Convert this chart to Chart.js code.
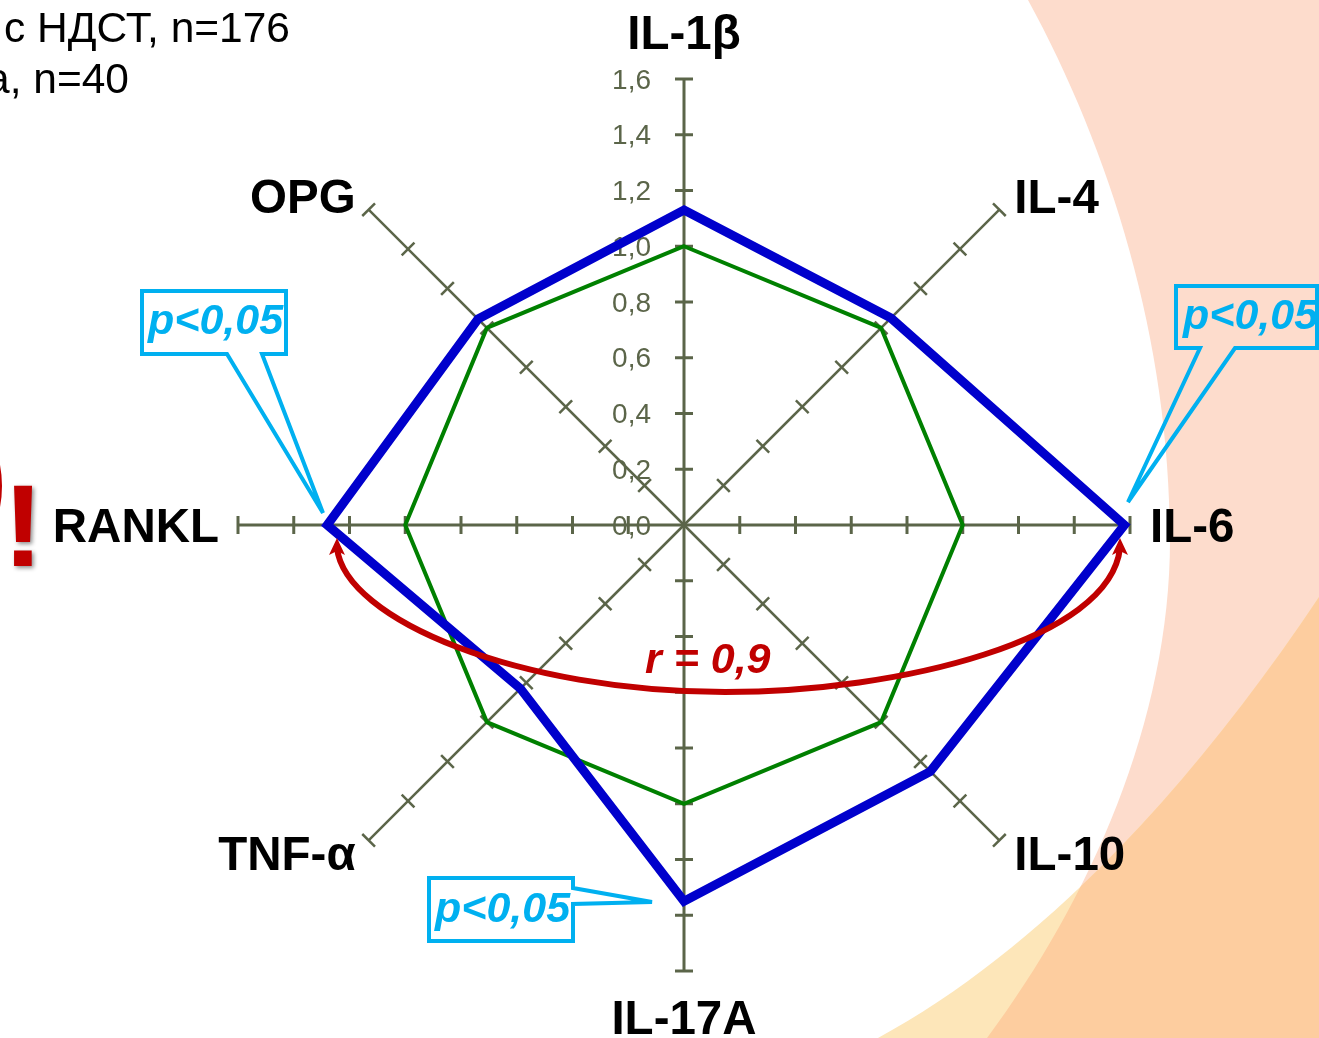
<!DOCTYPE html>
<html>
<head>
<meta charset="utf-8">
<title>Radar</title>
<script src="https://cdn.jsdelivr.net/npm/chart.js@4"></script>
<style>
html,body{margin:0;padding:0;background:#fff;overflow:hidden}
canvas{display:block}
</style>
</head>
<body>
<canvas id="myChart" width="1319" height="1038"></canvas>
<script>
const categories = ['IL-1β', 'IL-4', 'IL-6', 'IL-10', 'IL-17A', 'TNF-α', 'RANKL', 'OPG'];
const patientValues = [1.13, 1.05, 1.58, 1.25, 1.35, 0.83, 1.28, 1.045];
const controlValues = [1, 1, 1, 1, 1, 1, 1, 1];
const tickLabels = ['0,0', '0,2', '0,4', '0,6', '0,8', '1,0', '1,2', '1,4', '1,6'];
const headerLines = ['с НДСТ, n=176', 'а, n=40'];

// label offset from the end of each spoke
const labelDx = [0, 15, 20, 15, 0, -13, -19, -13];
const labelDy = [-30, 3, 17, 30, 63, 30, 17, 3];

const axisColor = '#5b6549';
const cyan = '#00b0f0';
const red = '#c00000';
const sans = '"Liberation Sans", Arial, sans-serif';

const drawBackground = (ctx) => {
    const pinkEdge = () => {
        ctx.beginPath();
        ctx.moveTo(1028, 0);
        ctx.bezierCurveTo(1110, 150, 1170, 340, 1170, 540);
        ctx.bezierCurveTo(1170, 720, 1090, 900, 987, 1038);
        ctx.lineTo(1319, 1038);
        ctx.lineTo(1319, 0);
        ctx.closePath();
    };
    const yellowEdge = () => {
        ctx.beginPath();
        ctx.moveTo(878, 1038);
        ctx.bezierCurveTo(1040, 950, 1190, 790, 1319, 597);
        ctx.lineTo(1319, 1038);
        ctx.closePath();
    };
    ctx.save();
    ctx.fillStyle = '#ffffff';
    ctx.fillRect(0, 0, 1319, 1038);
    pinkEdge();
    ctx.fillStyle = '#fddccc';
    ctx.fill();
    yellowEdge();
    ctx.fillStyle = '#fde6b9';
    ctx.fill();
    // overlap of both shapes is the darker orange
    pinkEdge();
    ctx.clip();
    yellowEdge();
    ctx.fillStyle = '#fdcd9f';
    ctx.fill();
    ctx.restore();
};

const drawAxisDetails = (chart) => {
    const ctx = chart.ctx;
    const scale = chart.scales.r;
    ctx.save();
    ctx.strokeStyle = axisColor;
    ctx.lineCap = 'butt';
    categories.forEach((name, i) => {
        const end = scale.getPointPositionForValue(i, scale.max);
        const dx = end.x - scale.xCenter;
        const dy = end.y - scale.yCenter;
        const len = Math.sqrt(dx * dx + dy * dy);
        ctx.lineWidth = i % 2 === 0 ? 3 : 2.5;
        scale.ticks.forEach((tick) => {
            if (tick.value === 0) return;
            const p = scale.getPointPositionForValue(i, tick.value);
            ctx.beginPath();
            ctx.moveTo(p.x - dy / len * 9, p.y + dx / len * 9);
            ctx.lineTo(p.x + dy / len * 9, p.y - dx / len * 9);
            ctx.stroke();
        });
    });
    ctx.fillStyle = axisColor;
    ctx.font = '28px ' + sans;
    ctx.textAlign = 'right';
    ctx.textBaseline = 'middle';
    scale.ticks.forEach((tick) => {
        ctx.fillText(tick.label, scale.xCenter - 33, scale.yCenter - scale.getDistanceFromCenterForValue(tick.value) + 2);
    });
    ctx.restore();
};

const drawCategoryLabels = (chart) => {
    const ctx = chart.ctx;
    const scale = chart.scales.r;
    ctx.save();
    ctx.fillStyle = '#000';
    ctx.font = 'bold 47.5px ' + sans;
    ctx.textBaseline = 'alphabetic';
    chart.data.labels.forEach((name, i) => {
        const end = scale.getPointPositionForValue(i, scale.max);
        ctx.textAlign = labelDx[i] === 0 ? 'center' : labelDx[i] > 0 ? 'left' : 'right';
        ctx.fillText(name, end.x + labelDx[i], end.y + labelDy[i]);
    });
    ctx.restore();
};

const drawCallout = (ctx, outline, textX, textY) => {
    ctx.beginPath();
    outline.forEach((p, i) => (i === 0 ? ctx.moveTo(p[0], p[1]) : ctx.lineTo(p[0], p[1])));
    ctx.closePath();
    ctx.strokeStyle = cyan;
    ctx.lineWidth = 4;
    ctx.lineJoin = 'miter';
    ctx.miterLimit = 3;
    ctx.stroke();
    ctx.fillStyle = cyan;
    ctx.font = 'italic bold 43px ' + sans;
    ctx.textAlign = 'left';
    ctx.fillText('p<0,05', textX, textY);
};

const drawAnnotations = (chart) => {
    const ctx = chart.ctx;
    ctx.save();
    ctx.textBaseline = 'alphabetic';

    // header text, cut off by the left edge
    ctx.fillStyle = '#000';
    ctx.font = '42.5px ' + sans;
    ctx.textAlign = 'right';
    ctx.fillText(headerLines[0], 290, 42);
    ctx.fillText(headerLines[1], 129, 93);

    drawCallout(ctx, [[142, 291], [286, 291], [286, 354], [262, 354], [323, 513], [227, 354], [142, 354]], 148, 334);
    drawCallout(ctx, [[1176, 286], [1317, 286], [1317, 348], [1235, 348], [1128, 502], [1200, 348], [1176, 348]], 1183, 329);
    drawCallout(ctx, [[429, 878], [573, 878], [573, 888], [652, 902], [573, 904], [573, 941], [429, 941]], 435, 922);

    // red correlation arc
    ctx.strokeStyle = red;
    ctx.lineWidth = 6;
    ctx.beginPath();
    ctx.moveTo(337, 548);
    ctx.bezierCurveTo(345, 620, 520, 692, 725, 692);
    ctx.bezierCurveTo(900, 692, 1110, 640, 1120, 548);
    ctx.stroke();
    ctx.fillStyle = red;
    [[337, 538], [1120, 538]].forEach((tip) => {
        ctx.beginPath();
        ctx.moveTo(tip[0], tip[1]);
        ctx.lineTo(tip[0] + 8, tip[1] + 17);
        ctx.lineTo(tip[0], tip[1] + 13);
        ctx.lineTo(tip[0] - 8, tip[1] + 17);
        ctx.closePath();
        ctx.fill();
    });
    ctx.font = 'italic bold 43px ' + sans;
    ctx.textAlign = 'left';
    ctx.fillText('r = 0,9', 645, 673);

    // exclamation mark with soft shadow, a bit wider than the font gives
    ctx.save();
    ctx.shadowColor = 'rgba(0,0,0,0.45)';
    ctx.shadowBlur = 4;
    ctx.shadowOffsetX = 2;
    ctx.shadowOffsetY = 2;
    ctx.font = 'bold 116px ' + sans;
    ctx.textAlign = 'center';
    ctx.translate(23, 566);
    ctx.scale(1.08, 1);
    ctx.fillText('!', 0, 0);
    ctx.restore();
    ctx.lineWidth = 4;
    ctx.beginPath();
    ctx.moveTo(-2, 465);
    ctx.quadraticCurveTo(2, 486, -2, 507);
    ctx.stroke();
    ctx.restore();
};

new Chart(document.getElementById('myChart'), {
    type: 'radar',
    data: {
        labels: categories,
        datasets: [{
            data: patientValues,
            borderColor: '#0000cc',
            borderWidth: 9,
            borderJoinStyle: 'miter',
            pointRadius: 0,
            fill: false,
            clip: false
        }, {
            data: controlValues,
            borderColor: '#008000',
            borderWidth: 4,
            borderJoinStyle: 'miter',
            pointRadius: 0,
            fill: false,
            clip: false
        }]
    },
    options: {
        responsive: false,
        animation: false,
        devicePixelRatio: 1,
        layout: { padding: { left: 238, right: 189, top: 79, bottom: 67 } },
        plugins: { legend: { display: false }, tooltip: { enabled: false }, title: { display: false } },
        scales: {
            r: {
                min: 0,
                max: 1.6,
                ticks: { display: false, stepSize: 0.2, callback: (v, i) => tickLabels[i] },
                grid: { display: false },
                pointLabels: { display: false },
                angleLines: {
                    color: axisColor,
                    lineWidth: (c) => (c.index % 2 === 0 ? 3 : 2.5)
                }
            }
        }
    },
    plugins: [{
        id: 'decor',
        beforeDraw: (chart) => drawBackground(chart.ctx),
        beforeDatasetsDraw: (chart) => {
            drawAxisDetails(chart);
            drawCategoryLabels(chart);
        },
        afterDatasetsDraw: (chart) => drawAnnotations(chart)
    }]
});
</script>
</body>
</html>
